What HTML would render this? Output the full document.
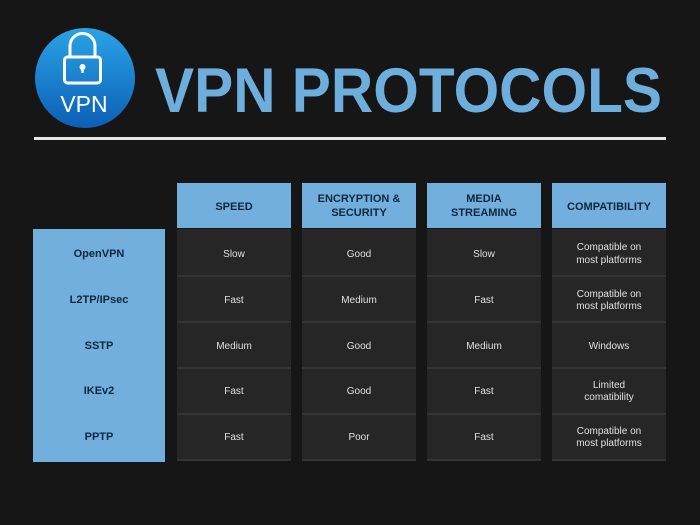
<!DOCTYPE html>
<html><head><meta charset="utf-8"><style>
html,body{margin:0;padding:0;background:#161616;}
svg{display:block}
</style></head><body>
<svg width="700" height="525" viewBox="0 0 700 525" xmlns="http://www.w3.org/2000/svg" font-family="Liberation Sans, sans-serif">
<defs>
<linearGradient id="g" x1="0" y1="0" x2="0" y2="1">
<stop offset="0" stop-color="#2aa3e6"/><stop offset="1" stop-color="#0d5fb5"/>
</linearGradient>
</defs>
<rect width="700" height="525" fill="#161616"/>
<circle cx="85" cy="78" r="50" fill="url(#g)"/>
<path d="M70 57 V46 a12.5 12.5 0 0 1 25 0 V57" fill="none" stroke="#fff" stroke-width="3"/>
<rect x="64.5" y="57" width="36" height="26" rx="3" fill="none" stroke="#fff" stroke-width="3"/>
<circle cx="82.5" cy="67" r="3" fill="#fff"/>
<rect x="81.3" y="67" width="2.4" height="6" fill="#fff"/>
<text x="84" y="112" font-size="23" fill="#fff" text-anchor="middle">VPN</text>
<text x="155" y="112" font-size="63" font-weight="bold" fill="#6eaedd" textLength="507" lengthAdjust="spacingAndGlyphs">VPN PROTOCOLS</text>
<rect x="34" y="137" width="632" height="3" fill="#e6e6e6"/>

<g font-weight="bold" font-size="11" fill="#0f2740" text-anchor="middle">
<rect x="177" y="183" width="114" height="45" fill="#72afdd"/>
<rect x="302" y="183" width="114" height="45" fill="#72afdd"/>
<rect x="427" y="183" width="114" height="45" fill="#72afdd"/>
<rect x="552" y="183" width="114" height="45" fill="#72afdd"/>
<text x="234" y="210">SPEED</text>
<text x="359" y="202">ENCRYPTION &amp;</text><text x="359" y="216">SECURITY</text>
<text x="484" y="202">MEDIA</text><text x="484" y="216">STREAMING</text>
<text x="609" y="210">COMPATIBILITY</text>
<rect x="33" y="229" width="132" height="233" fill="#72afdd"/>
<text x="99" y="257">OpenVPN</text>
<text x="99" y="303">L2TP/IPsec</text>
<text x="99" y="349">SSTP</text>
<text x="99" y="394">IKEv2</text>
<text x="99" y="440">PPTP</text>
</g>

<g fill="#262626">
<rect x="177" y="229" width="114" height="232"/>
<rect x="302" y="229" width="114" height="232"/>
<rect x="427" y="229" width="114" height="232"/>
<rect x="552" y="229" width="114" height="232"/>
</g>
<g fill="#343434">
<rect x="177" y="275" width="489" height="2"/>
<rect x="177" y="321" width="489" height="2"/>
<rect x="177" y="367" width="489" height="2"/>
<rect x="177" y="413" width="489" height="2"/>
<rect x="177" y="459" width="489" height="2"/>
</g>
<g fill="#161616">
<rect x="291" y="229" width="11" height="234"/>
<rect x="416" y="229" width="11" height="234"/>
<rect x="541" y="229" width="11" height="234"/>
</g>
<g font-size="10" fill="#e0e0e0" text-anchor="middle">
<text x="234" y="257">Slow</text><text x="359" y="257">Good</text><text x="484" y="257">Slow</text>
<text x="609" y="250">Compatible on</text><text x="609" y="263">most platforms</text>
<text x="234" y="303">Fast</text><text x="359" y="303">Medium</text><text x="484" y="303">Fast</text>
<text x="609" y="297">Compatible on</text><text x="609" y="309">most platforms</text>
<text x="234" y="349">Medium</text><text x="359" y="349">Good</text><text x="484" y="349">Medium</text>
<text x="609" y="349">Windows</text>
<text x="234" y="394">Fast</text><text x="359" y="394">Good</text><text x="484" y="394">Fast</text>
<text x="609" y="388">Limited</text><text x="609" y="400">comatibility</text>
<text x="234" y="440">Fast</text><text x="359" y="440">Poor</text><text x="484" y="440">Fast</text>
<text x="609" y="434">Compatible on</text><text x="609" y="446">most platforms</text>
</g>
</svg>
</body></html>
